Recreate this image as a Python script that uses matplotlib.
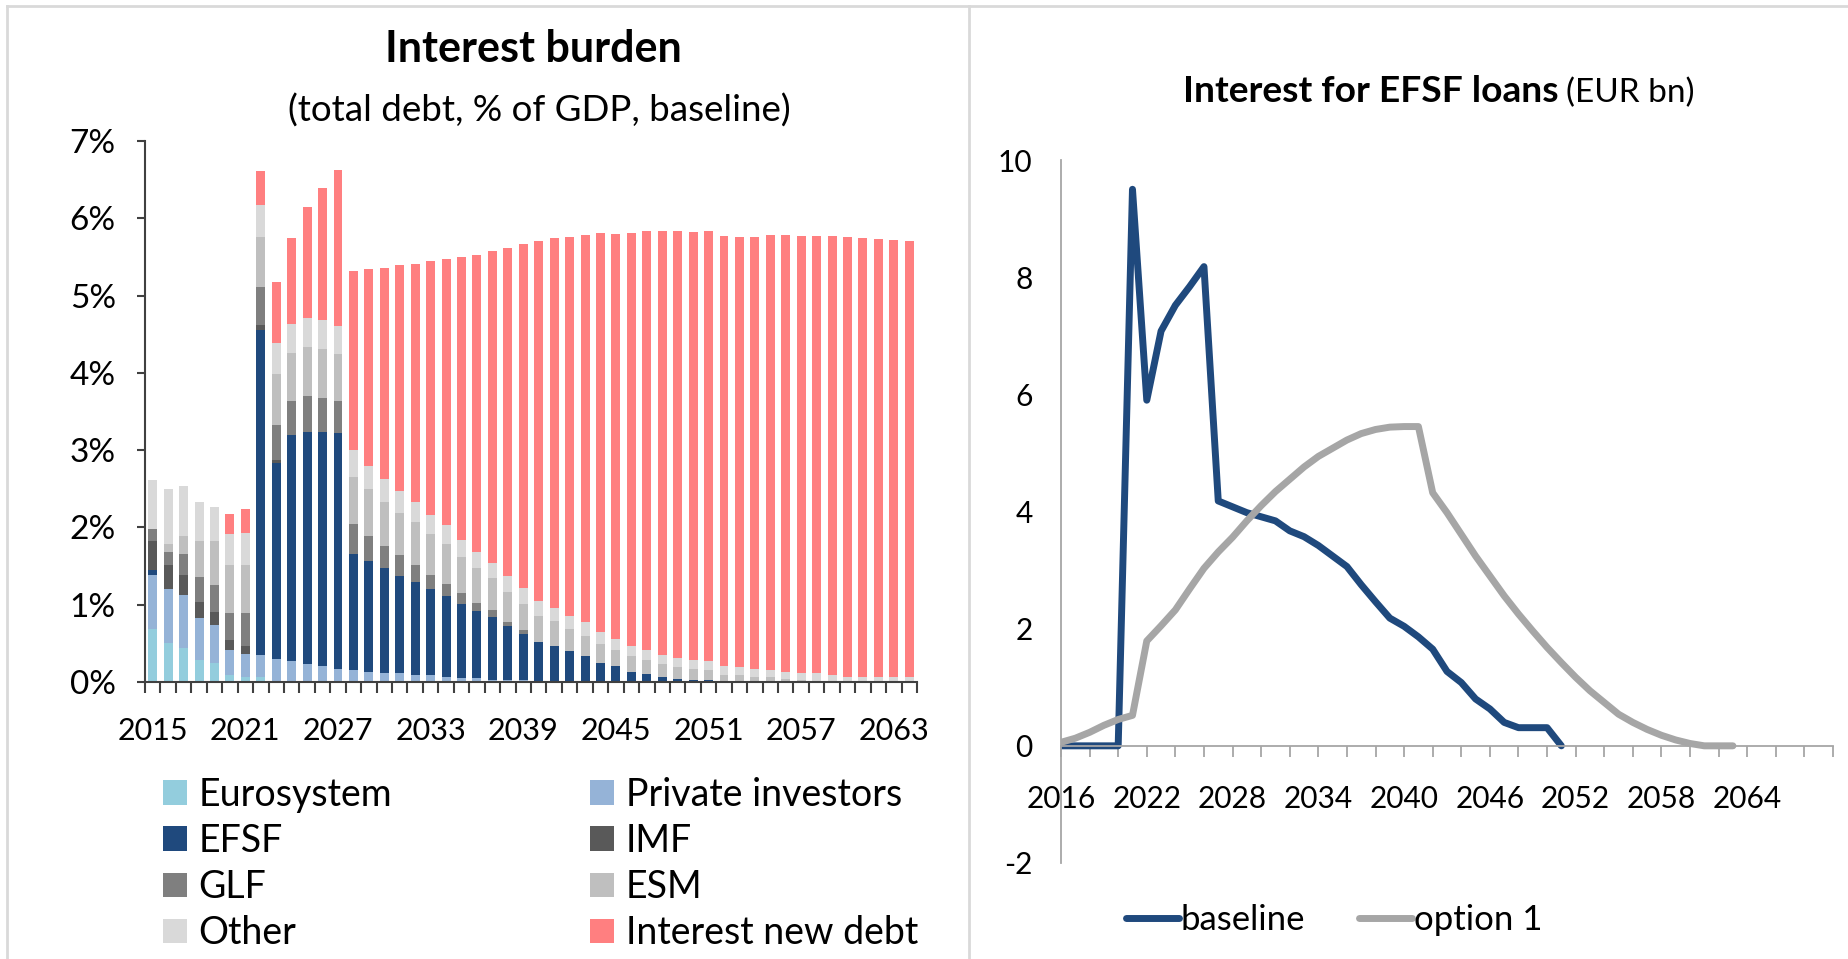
import numpy as np
import matplotlib
matplotlib.use("Agg")
import matplotlib.pyplot as plt
from matplotlib.patches import Patch
from matplotlib.lines import Line2D
from matplotlib.ticker import FixedLocator, MultipleLocator, FuncFormatter

plt.rcParams['font.family'] = ['Lato', 'DejaVu Sans']
plt.rcParams['axes.unicode_minus'] = False

# ---- left panel data: interest burden by creditor (% of GDP) ----
years = list(range(2015, 2065))
eurosystem = [0.68, 0.51, 0.44, 0.29, 0.24, 0.09, 0.07, 0.07, 0.01] + [0.0] * 41
private = [0.71, 0.69, 0.69, 0.54, 0.50, 0.32, 0.29, 0.28, 0.29, 0.27,
           0.23, 0.21, 0.17, 0.15, 0.13, 0.12, 0.11, 0.09, 0.09, 0.07,
           0.05, 0.05, 0.03, 0.02, 0.02, 0.01, 0.01] + [0.0] * 23
efsf = [0.06, 0.0, 0.0, 0.0, 0.0, 0.0, 0.0, 4.21, 2.54, 2.93,
        3.01, 3.03, 3.05, 1.51, 1.43, 1.35, 1.26, 1.20, 1.11, 1.04,
        0.96, 0.87, 0.81, 0.70, 0.60, 0.51, 0.46, 0.40, 0.33, 0.25,
        0.21, 0.13, 0.10, 0.06, 0.04, 0.03, 0.03] + [0.0] * 13
imf = [0.38, 0.32, 0.25, 0.21, 0.16, 0.13, 0.10, 0.06, 0.03] + [0.0] * 41
glf = [0.15, 0.16, 0.27, 0.32, 0.35, 0.35, 0.43, 0.49, 0.46, 0.43,
       0.46, 0.43, 0.41, 0.38, 0.33, 0.29, 0.27, 0.23, 0.18, 0.16,
       0.14, 0.10, 0.09, 0.06, 0.05] + [0.0] * 25
esm = [0.0, 0.10, 0.24, 0.46, 0.57, 0.63, 0.63, 0.65, 0.65, 0.63,
       0.63, 0.64, 0.61, 0.61, 0.61, 0.57, 0.55, 0.55, 0.53, 0.51,
       0.47, 0.45, 0.41, 0.39, 0.34, 0.34, 0.32, 0.29, 0.27, 0.24,
       0.21, 0.20, 0.19, 0.17, 0.15, 0.14, 0.13, 0.09, 0.09, 0.07,
       0.06, 0.04, 0.03, 0.01] + [0.0] * 6
other = [0.64, 0.72, 0.64, 0.51, 0.44, 0.39, 0.41, 0.41, 0.40, 0.37,
         0.38, 0.37, 0.36, 0.35, 0.30, 0.30, 0.28, 0.26, 0.25, 0.25,
         0.22, 0.21, 0.20, 0.20, 0.20, 0.19, 0.17, 0.17, 0.17, 0.16,
         0.14, 0.14, 0.13, 0.12, 0.12, 0.11, 0.11, 0.12, 0.10, 0.10,
         0.09, 0.09, 0.09, 0.10, 0.09, 0.07, 0.07, 0.06, 0.06, 0.06]
new_debt = [0.0, 0.0, 0.0, 0.0, 0.0, 0.27, 0.31, 0.44, 0.79, 1.11,
            1.43, 1.71, 2.02, 2.32, 2.54, 2.73, 2.92, 3.08, 3.29, 3.44,
            3.66, 3.85, 4.04, 4.25, 4.46, 4.66, 4.78, 4.90, 5.01, 5.16,
            5.24, 5.34, 5.41, 5.48, 5.52, 5.54, 5.56, 5.56, 5.57, 5.59,
            5.64, 5.65, 5.65, 5.66, 5.68, 5.69, 5.68, 5.67, 5.66, 5.65]

series_names = ['Eurosystem', 'Private investors', 'EFSF', 'IMF', 'GLF',
                'ESM', 'Other', 'Interest new debt']
series_colors = ['#93CDDD', '#95B3D7', '#1F497D', '#595959', '#7F7F7F',
                 '#BFBFBF', '#D9D9D9', '#FF7F80']

# ---- right panel data: interest for EFSF loans (EUR bn) ----
line_years = list(range(2016, 2071))
baseline = [0, 0, 0, 0, 0, 9.50, 5.90, 7.08, 7.52, 7.84,
            8.18, 4.18, 4.08, 3.98, 3.91, 3.84, 3.67, 3.57, 3.42, 3.24,
            3.06, 2.75, 2.46, 2.18, 2.04, 1.86, 1.65, 1.27, 1.08, 0.80,
            0.63, 0.40, 0.31, 0.31, 0.31, 0.0] + [np.nan] * 19
option1 = [0.06, 0.13, 0.23, 0.35, 0.45, 0.52, 1.79, 2.05, 2.32, 2.68,
           3.03, 3.31, 3.56, 3.84, 4.10, 4.34, 4.55, 4.76, 4.94, 5.08,
           5.22, 5.33, 5.40, 5.44, 5.45, 5.45, 4.32, 3.98, 3.61, 3.24,
           2.90, 2.56, 2.25, 1.96, 1.68, 1.42, 1.17, 0.94, 0.74, 0.54,
           0.40, 0.28, 0.18, 0.10, 0.04, 0.0, 0.0, 0.0] + [np.nan] * 7

W, H = 1849, 959
fig = plt.figure(figsize=(W / 100, H / 100), dpi=100)
fig.patch.set_facecolor('white')


def fx(px):
    return px / W


def fy(py):
    return 1 - py / H


# frame lines
frame_col = '#D9D9D9'
fig.add_artist(Line2D([fx(7), 1], [fy(6), fy(6)], color=frame_col, lw=2))
fig.add_artist(Line2D([fx(7), fx(7)], [fy(6), 0], color=frame_col, lw=2))
fig.add_artist(Line2D([fx(969), fx(969)], [fy(6), 0], color=frame_col, lw=2))

# ---------------- left: stacked bars ----------------
ax1 = fig.add_axes([fx(145), fy(682), fx(917) - fx(145), fy(141) - fy(682)])
data = [eurosystem, private, efsf, imf, glf, esm, other, new_debt]
x = np.arange(len(years))
bottom = np.zeros(len(years))
handles = []
for name, vals, col in zip(series_names, data, series_colors):
    vals = np.array(vals) / 100.0
    ax1.bar(x, vals, width=0.58, bottom=bottom, color=col, linewidth=0)
    bottom += vals
    handles.append(Patch(facecolor=col, edgecolor='none', label=name))

ax1.set_xlim(-0.5, len(years) - 0.5)
ax1.set_ylim(0, 0.07)
ax1.set_yticks(np.arange(0, 0.071, 0.01))
ax1.set_yticklabels([f'{i}%' for i in range(8)])
for s in ['top', 'right']:
    ax1.spines[s].set_visible(False)
for s in ['left', 'bottom']:
    ax1.spines[s].set_color('#404040')
    ax1.spines[s].set_linewidth(1.5)
lab_idx = [i for i in range(len(years)) if (years[i] - 2015) % 6 == 0]
ax1.set_xticks(lab_idx)
ax1.set_xticklabels([str(years[i]) for i in lab_idx])
ax1.xaxis.set_minor_locator(FixedLocator(np.arange(-0.5, len(years), 1.0)))
ax1.tick_params(axis='x', which='major', length=0, pad=25, labelsize=22)
ax1.tick_params(axis='x', which='minor', length=8, width=1.5, color='#404040')
ax1.tick_params(axis='y', length=6, width=1.5, color='#404040', pad=15, labelsize=24)

fig.text(fx(533), fy(49), 'Interest burden', ha='center', va='center',
         fontsize=31, fontweight='bold')
fig.text(fx(539), fy(111), '(total debt, % of GDP, baseline)', ha='center',
         va='center', fontsize=26.5)

order1 = [0, 2, 4, 6]
order2 = [1, 3, 5, 7]
for idx, xpos in [(order1, 163), (order2, 590)]:
    fig.legend([handles[i] for i in idx], [series_names[i] for i in idx],
               loc='center left', bbox_to_anchor=(fx(xpos), fy(864)),
               frameon=False, fontsize=27, borderpad=0, borderaxespad=0,
               handlelength=0.63, handleheight=0.63, handletextpad=0.32,
               labelspacing=0.27)

# ---------------- right: lines ----------------
ax2 = fig.add_axes([fx(1061), fy(863), fx(1833) - fx(1061), fy(160) - fy(863)])
ax2.plot(line_years, baseline, color='#1F497D', lw=5, solid_capstyle='round',
         solid_joinstyle='round', label='baseline')
ax2.plot(line_years, option1, color='#A6A6A6', lw=5, solid_capstyle='round',
         solid_joinstyle='round', label='option 1')
ax2.set_xlim(2016, 2070)
ax2.set_ylim(-2, 10)
ax2.set_yticks(np.arange(-2, 11, 2))
for s in ['top', 'right']:
    ax2.spines[s].set_visible(False)
ax2.spines['bottom'].set_position(('data', 0))
for s in ['left', 'bottom']:
    ax2.spines[s].set_color('#A6A6A6')
    ax2.spines[s].set_linewidth(1.3)
ax2.xaxis.set_major_locator(MultipleLocator(2))
ax2.xaxis.set_major_formatter(FuncFormatter(
    lambda v, p: str(int(round(v)))
    if (int(round(v)) - 2016) % 6 == 0 and v < 2066 else ''))
ax2.tick_params(axis='x', length=8, width=1.3, color='#A6A6A6', pad=20, labelsize=21.5)
ax2.tick_params(axis='y', length=0, pad=20.5, labelsize=21.5)

fig.text(fx(1559), fy(91), 'Interest for EFSF loans', ha='right', va='center',
         fontsize=26.7, fontweight='bold')
fig.text(fx(1566), fy(93), '(EUR bn)', ha='left', va='center', fontsize=24)

fig.legend(handles=ax2.get_lines(), loc='center left',
           bbox_to_anchor=(fx(1126), fy(920)), ncol=2, frameon=False,
           fontsize=25, borderpad=0, borderaxespad=0, handlelength=1.53,
           handletextpad=0.05, columnspacing=1.55)

fig.savefig('out.png', dpi=100, facecolor='white')
